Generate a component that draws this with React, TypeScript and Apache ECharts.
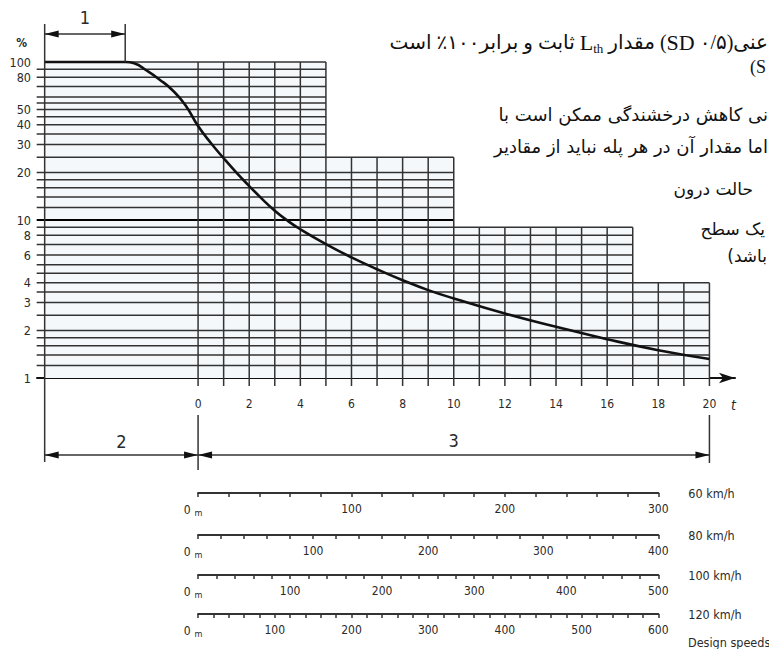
import React, { useEffect, useRef } from 'react';
import * as echarts from 'echarts';

// ---------------- data ----------------
const curveT = [-6, -2.85, -2.5, -2, -1.5, -1, -0.5, 0, 0.5, 1, 1.5, 2, 2.5, 3, 3.5, 4, 5, 6, 7, 8, 9, 10, 12, 14, 16, 18, 20];
const curveL = [100, 100, 98.2, 88, 77.3, 66.3, 53.5, 39.3, 30.7, 24.6, 19.95, 16.4, 13.6, 11.45, 9.9, 8.74, 7.04, 5.8, 4.88, 4.16, 3.6, 3.19, 2.56, 2.11, 1.76, 1.5, 1.32];

const stepEdges = [-6, 5, 10, 17, 20];
const stepTops = [100, 25, 9, 4];
const gridLineValues = [100, 90, 80, 70, 60, 55, 50, 45, 40, 35, 30, 25, 20, 18, 16, 14, 12, 10, 9, 8, 7, 6, 5.2, 4.6, 4, 3.5, 3, 2.5, 2, 1.8, 1.6, 1.4, 1.2];
const timeGridLines = [0, 1, 2, 3, 4, 5, 6, 7, 8, 9, 10, 11, 12, 13, 14, 15, 16, 17, 18, 19, 20];
const yTickLabels = [100, 80, 50, 40, 30, 20, 10, 8, 6, 4, 3, 2, 1];
const xTickLabels = [0, 2, 4, 6, 8, 10, 12, 14, 16, 18, 20];
const plateauEnd = -2.85;
const dimLabels = ['1', '2', '3'];

const speedLabels = ['60 km/h', '80 km/h', '100 km/h', '120 km/h'];
const distanceMax = [300, 400, 500, 600];
const scaleSeconds = 18;
const distanceTick = 20;
const distanceLabelStep = 100;

// Persian text beside the chart (right-to-left lines, clipped by the page's right edge).
// Lines with mixed pieces are listed in their on-screen order, left to right.
const persianLine1 = ['است', ' ', '٪', '۱۰۰', 'برابر', ' ', 'و', ' ', 'ثابت', ' ', 'L', 'th', ' ', 'مقدار', ' ', '(', 'SD', ' ', '۰/۵', ')', 'عنی'];
const persianLine1Kind = ['f', 'f', 'f', 'f', 'f', 'f', 'f', 'f', 'f', 'f', 'l', 'sub', 'f', 'f', 'f', 'f', 'l', 'f', 'f', 'f', 'f'];
const persianLines = [
  '(S',
  'نی کاهش درخشندگی ممکن است با',
  'اما مقدار آن در هر پله نباید از مقادیر',
  'حالت درون',
  'یک سطح',
];
const persianLastLine = ['(', 'باشد'];

// ---------------- layout ----------------
const W = 769;
const H = 649;
const G = { left: 37, top: 62, width: 698, height: 316 };
const X_MIN = -6.3;
const X_MAX = 21;
const scaleRowY = [493, 535, 575, 614];
const persianPos = [
  { x: 750, y: 67, size: 18, serif: true, align: 'left' },
  { x: 768, y: 114, size: 18, serif: false, align: 'right' },
  { x: 768, y: 146, size: 18, serif: false, align: 'right' },
  { x: 753, y: 189, size: 17, serif: false, align: 'right' },
  { x: 765, y: 229, size: 17, serif: false, align: 'right' },
];
const FONT = "'DejaVu Sans Condensed', 'Liberation Sans Narrow', Roboto, sans-serif";
const SERIF = "'Liberation Serif', 'DejaVu Serif', 'DejaVu Sans', serif";
const ARAB = "'DejaVu Sans', 'Noto Sans', sans-serif";
const INK = '#2a2a2a';
const LINE = '#333';
const KIND: any = {
  f: { size: 20, family: SERIF, dy: 0 },
  l: { size: 22, family: SERIF, dy: 0 },
  sub: { size: 13, family: SERIF, dy: 6 },
  a: { size: 17, family: ARAB, dy: 0 },
};

let measureCtx: CanvasRenderingContext2D | null = null;
function measure(text: string, size: number, family: string): number {
  if (!measureCtx) measureCtx = document.createElement('canvas').getContext('2d');
  if (!measureCtx) return text.length * size * 0.5;
  measureCtx.font = size + 'px ' + family;
  return measureCtx.measureText(text).width;
}

function rowOfPieces(pieces: string[], kinds: string[], right: number, y: number): any[] {
  const widths = pieces.map((p, i) => measure(p, KIND[kinds[i]].size, KIND[kinds[i]].family));
  const total = widths.reduce((a, b) => a + b, 0);
  let x = right - total;
  const out: any[] = [];
  pieces.forEach((p, i) => {
    const k = KIND[kinds[i]];
    if (p.trim() !== '') {
      out.push({
        type: 'text', silent: true,
        style: {
          text: p, x, y: y + k.dy, fontSize: k.size, fontFamily: k.family, fill: '#111',
          textAlign: 'left', align: 'left', textVerticalAlign: 'middle', verticalAlign: 'middle',
        },
      });
    }
    x += widths[i];
  });
  return out;
}

function stepEndFor(v: number): number {
  let end = stepEdges[0];
  for (let i = 0; i < stepTops.length; i++) if (stepTops[i] >= v) end = stepEdges[i + 1];
  return end;
}
function stepTopAt(t: number): number {
  for (let i = 0; i < stepTops.length; i++) if (t <= stepEdges[i + 1]) return stepTops[i];
  return stepTops[stepTops.length - 1];
}

function txt(text: string, x: number, y: number, size: number, extra: any = {}) {
  return {
    type: 'text',
    style: {
      text, x, y,
      fontSize: size, fontFamily: FONT, fill: INK,
      align: 'center', verticalAlign: 'middle',
      textAlign: 'center', textVerticalAlign: 'middle',
      ...extra,
    },
  };
}

function buildOption(): any {
  const hLineData = gridLineValues.map((v) => [stepEdges[0], stepEndFor(v), v]);
  const vLineData = timeGridLines.map((t) => [t, stepTopAt(t)]);
  const fillOutline: number[][] = [[stepEdges[0], 1]];
  for (let i = 0; i < stepTops.length; i++) {
    fillOutline.push([stepEdges[i], stepTops[i]]);
    fillOutline.push([stepEdges[i + 1], stepTops[i]]);
  }
  fillOutline.push([stepEdges[stepEdges.length - 1], 1]);

  const pxPerUnit = G.width / (X_MAX - X_MIN);
  const scaleLeft = G.left + (0 - X_MIN) * pxPerUnit;
  const scaleWidth = scaleSeconds * pxPerUnit;

  const grids: any[] = [{ ...G }];
  const xAxes: any[] = [
    {
      type: 'value', gridIndex: 0, min: X_MIN, max: X_MAX, position: 'bottom',
      axisLine: { show: true, onZero: false, symbol: ['none', 'arrow'], symbolSize: [8, 16], lineStyle: { color: '#111', width: 2 } },
      axisTick: { show: false },
      splitLine: { show: false },
      axisLabel: { customValues: xTickLabels, margin: 20, fontSize: 12, color: INK, fontFamily: FONT },
    },
  ];
  const yAxes: any[] = [
    {
      type: 'log', logBase: 10, gridIndex: 0, min: 1, max: 100,
      axisLine: { show: false }, axisTick: { show: false }, splitLine: { show: false },
      axisLabel: { customValues: yTickLabels, margin: 6, fontSize: 12.5, color: INK, fontFamily: FONT },
    },
  ];
  speedLabels.forEach((name, i) => {
    grids.push({ left: scaleLeft, width: scaleWidth, top: scaleRowY[i] - 1, height: 1 });
    xAxes.push({
      type: 'value', gridIndex: i + 1, min: 0, max: distanceMax[i], interval: distanceTick, position: 'bottom',
      name, nameLocation: 'end', nameGap: 30,
      nameTextStyle: { fontSize: 12.5, color: INK, fontFamily: FONT, align: 'left', verticalAlign: 'middle' },
      axisLine: { show: true, onZero: false, lineStyle: { color: LINE, width: 2 } },
      axisTick: { show: true, length: 4, lineStyle: { color: LINE, width: 1.5 } },
      splitLine: { show: false },
      axisLabel: {
        margin: 10, fontSize: 12, color: INK, fontFamily: FONT,
        formatter: (v: number) => (v === 0 ? '{z|0}{m|m}' : v % distanceLabelStep === 0 ? String(v) : ''),
        rich: {
          z: { fontSize: 12, color: INK, fontFamily: FONT, padding: [0, 4, 0, 0] },
          m: { fontSize: 9, color: INK, fontFamily: FONT, padding: [5, 10, 0, 0] },
        },
      },
    });
    yAxes.push({ type: 'value', gridIndex: i + 1, show: false, min: 0, max: 1 });
  });

  const series: any[] = [
    {
      type: 'custom', name: 'fill', xAxisIndex: 0, yAxisIndex: 0, silent: true, clip: false, z: 1,
      data: [[0, 1]], encode: { x: 0, y: 1 },
      renderItem: (_p: any, api: any) => ({
        type: 'polygon',
        shape: { points: fillOutline.map((pt) => api.coord(pt)) },
        style: { fill: '#f5f8fb' },
      }),
    },
    {
      type: 'custom', name: 'hgrid', xAxisIndex: 0, yAxisIndex: 0, silent: true, clip: false, z: 2,
      data: hLineData, encode: { x: [0, 1], y: 2 },
      renderItem: (_p: any, api: any) => {
        const v = api.value(2);
        const a = api.coord([api.value(0), v]);
        const b = api.coord([api.value(1), v]);
        const strong = v === 10;
        return {
          type: 'line',
          shape: { x1: a[0] - (v === 100 ? 0 : 8), y1: a[1], x2: b[0], y2: b[1] },
          style: { stroke: strong ? '#000' : LINE, lineWidth: strong ? 2 : 1.5 },
        };
      },
    },
    {
      type: 'custom', name: 'vgrid', xAxisIndex: 0, yAxisIndex: 0, silent: true, clip: false, z: 2,
      data: vLineData, encode: { x: 0, y: 1 },
      renderItem: (_p: any, api: any) => {
        const t = api.value(0);
        const a = api.coord([t, 1]);
        const b = api.coord([t, api.value(1)]);
        return {
          type: 'line',
          shape: { x1: a[0], y1: a[1] + 8, x2: b[0], y2: b[1] },
          style: { stroke: LINE, lineWidth: 1.5 },
        };
      },
    },
    {
      type: 'line', name: 'Lth', xAxisIndex: 0, yAxisIndex: 0, z: 5, clip: false,
      data: curveT.map((t, i) => [t, curveL[i]]),
      smooth: 0.5, showSymbol: false, silent: true,
      lineStyle: { color: '#111', width: 2.6 },
    },
    {
      type: 'custom', name: 'dims', xAxisIndex: 0, yAxisIndex: 0, silent: true, clip: false, z: 6,
      data: [[0, 1]], encode: { x: 0, y: 1 },
      renderItem: (_p: any, api: any) => {
        const xL = api.coord([stepEdges[0], 100])[0];
        const yTop = api.coord([stepEdges[0], 100])[1];
        const xP = api.coord([plateauEnd, 100])[0];
        const x0 = api.coord([0, 1])[0];
        const yAx = api.coord([0, 1])[1];
        const xE = api.coord([stepEdges[stepEdges.length - 1], 1])[0];
        const ln = (x1: number, y1: number, x2: number, y2: number, w = 1.5) => ({
          type: 'line', shape: { x1, y1, x2, y2 }, style: { stroke: LINE, lineWidth: w },
        });
        const arrow = (tip: number, y: number, dir: number) => ({
          type: 'polygon',
          shape: { points: [[tip, y], [tip - dir * 14, y - 3.5], [tip - dir * 14, y + 3.5]] },
          style: { fill: '#111' },
        });
        const d1 = yTop - 28;
        const d2 = yAx + 77;
        return {
          type: 'group',
          children: [
            ln(xL, yTop - 38, xL, yTop),
            ln(xP, yTop - 38, xP, yTop),
            ln(xL, d1, xP, d1),
            arrow(xL, d1, -1),
            arrow(xP, d1, 1),
            txt(dimLabels[0], (xL + xP) / 2, d1 - 17, 18),
            ln(xL, yTop, xL, yAx + 84),
            ln(x0, yAx + 37, x0, yAx + 92),
            ln(xE, yAx + 37, xE, yAx + 85),
            ln(xL, d2, xE, d2),
            arrow(xL, d2, -1),
            arrow(x0, d2, 1),
            arrow(x0, d2, -1),
            arrow(xE, d2, 1),
            txt(dimLabels[1], (xL + x0) / 2, d2 - 14, 18),
            txt(dimLabels[2], (x0 + xE) / 2, d2 - 15, 18),
            txt('t', xE + 24, yAx + 27, 14, { fontStyle: 'italic' }),
            txt('%', xL - 23, yTop - 19, 12, { fontWeight: 'bold' }),
          ],
        };
      },
    },
  ];

  const graphic: any[] = [];
  graphic.push(...rowOfPieces(persianLine1, persianLine1Kind, 768, 42));
  persianLines.forEach((s, i) => {
    const p = persianPos[i];
    graphic.push({
      type: 'text', silent: true,
      style: {
        text: s,
        x: p.x, y: p.y,
        fontSize: p.size,
        fontFamily: p.serif ? SERIF : ARAB,
        fill: '#111',
        textAlign: p.align, align: p.align,
        textVerticalAlign: 'middle', verticalAlign: 'middle',
      },
    });
  });
  graphic.push(...rowOfPieces(persianLastLine, ['a', 'a'], 767, 256));
  graphic.push({
    type: 'text', silent: true,
    style: {
      text: 'Design speeds', x: 688, y: 642, fontSize: 12.5, fontFamily: FONT, fill: INK,
      textAlign: 'left', align: 'left', textVerticalAlign: 'middle', verticalAlign: 'middle',
    },
  });

  return {
    animation: false,
    backgroundColor: '#ffffff',
    grid: grids,
    xAxis: xAxes,
    yAxis: yAxes,
    series,
    graphic,
  };
}

export default function App() {
  const ref = useRef<HTMLDivElement>(null);
  useEffect(() => {
    document.body.style.margin = '0';
    const chart = echarts.init(ref.current as HTMLDivElement, undefined, { renderer: 'svg', width: W, height: H });
    chart.setOption(buildOption());
    return () => chart.dispose();
  }, []);
  return <div ref={ref} style={{ width: W, height: H, background: '#fff', overflow: 'hidden' }} />;
}
